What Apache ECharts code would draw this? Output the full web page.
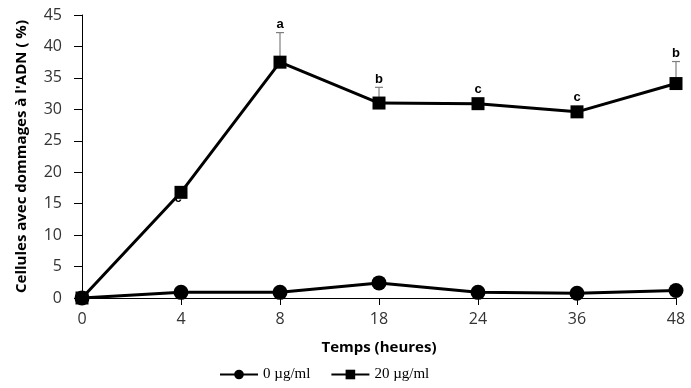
<!DOCTYPE html>
<html>
<head>
<meta charset="utf-8">
<script src="https://cdn.jsdelivr.net/npm/echarts@6/dist/echarts.min.js"></script>
<style>
  html, body { margin: 0; padding: 0; background: #fff; }
  #chart { width: 691px; height: 388px; }
</style>
</head>
<body>
<div id="chart"></div>
<script>
// Time points (hours)
const hours = ['0', '4', '8', '18', '24', '36', '48'];
// % cells with DNA damage, control
const control = [0, 0.9, 0.9, 2.4, 0.9, 0.75, 1.2];
// % cells with DNA damage, 20 µg/ml
const treated = [0, 16.8, 37.5, 31.0, 30.9, 29.6, 34.1];
// Upper end of the error bars for the treated series (null = no bar)
const treatedUpper = [null, null, 42.2, 33.5, null, null, 37.6];
// Significance letters
const letters = ['', 'c', 'a', 'b', 'c', 'c', 'b'];
const yTicks = { min: 0, max: 45, interval: 5 };

const chart = echarts.init(document.getElementById('chart'));

const errData = hours.map((h, i) => [i, treated[i], treatedUpper[i] == null ? treated[i] : treatedUpper[i]]);

const option = {
  animation: false,
  textStyle: { fontFamily: 'Open Sans' },
  grid: { left: 82, right: 15, top: 15, bottom: 90 },
  legend: {
    bottom: 1,
    left: 214,
    itemWidth: 38,
    itemHeight: 12,
    itemGap: 20,
    textStyle: { fontFamily: 'Liberation Serif', fontSize: 15, color: '#000' },
    data: ['0 µg/ml', '20 µg/ml']
  },
  xAxis: {
    type: 'category',
    data: hours,
    boundaryGap: false,
    name: 'Temps (heures)',
    nameLocation: 'middle',
    nameGap: 42,
    nameTextStyle: { fontSize: 15, fontWeight: 'bold', color: '#000' },
    axisLine: { lineStyle: { color: '#000', width: 1 } },
    axisTick: { show: true, length: 7, lineStyle: { color: '#000' } },
    axisLabel: { fontSize: 16, color: '#333', margin: 13 }
  },
  yAxis: {
    type: 'value',
    min: yTicks.min, max: yTicks.max, interval: yTicks.interval,
    name: "Cellules avec dommages à l'ADN ( %)",
    nameLocation: 'middle',
    nameGap: 53,
    nameTextStyle: { fontSize: 15, fontWeight: 'bold', color: '#000' },
    axisLine: { show: true, lineStyle: { color: '#000', width: 1 } },
    axisTick: { show: true, length: 8, lineStyle: { color: '#000' } },
    axisLabel: { fontSize: 16, color: '#333', margin: 20 },
    splitLine: { show: false }
  },
  series: [
    {
      type: 'custom',
      name: 'err',
      z: 1,
      data: errData,
      renderItem: function (params, api) {
        const i = api.value(0);
        const base = api.coord([i, api.value(1)]);
        const top = api.coord([i, api.value(2)]);
        const letter = letters[i];
        const children = [];
        const hasBar = treatedUpper[i] != null;
        if (hasBar) {
          children.push({ type: 'line', shape: { x1: base[0], y1: base[1], x2: top[0], y2: top[1] }, style: { stroke: '#7f7f7f', lineWidth: 1.2 } });
          children.push({ type: 'line', shape: { x1: top[0] - 4, y1: top[1], x2: top[0] + 4, y2: top[1] }, style: { stroke: '#7f7f7f', lineWidth: 1.2 } });
        }
        if (letter) {
          let ty;
          let tx = top[0];
          if (i === 1) { ty = base[1] + 6; tx = base[0] - 3; }
          else if (hasBar) { ty = top[1] - 8; }
          else { ty = base[1] - 14; }
          children.push({ type: 'text', x: tx, y: ty, style: { text: letter, fontFamily: 'Liberation Sans', fontWeight: 'bold', fontSize: 13, fill: '#000', align: 'center', verticalAlign: 'middle' } });
        }
        return { type: 'group', children: children };
      },
      tooltip: { show: false }
    },
    {
      name: '0 µg/ml',
      type: 'line',
      z: 3,
      data: control,
      symbol: 'circle',
      symbolSize: 15,
      itemStyle: { color: '#000' },
      lineStyle: { color: '#000', width: 3 }
    },
    {
      name: '20 µg/ml',
      type: 'line',
      z: 3,
      data: treated,
      symbol: 'rect',
      symbolSize: 13,
      itemStyle: { color: '#000' },
      lineStyle: { color: '#000', width: 3 }
    }
  ]
};

chart.setOption(option);
</script>
</body>
</html>
